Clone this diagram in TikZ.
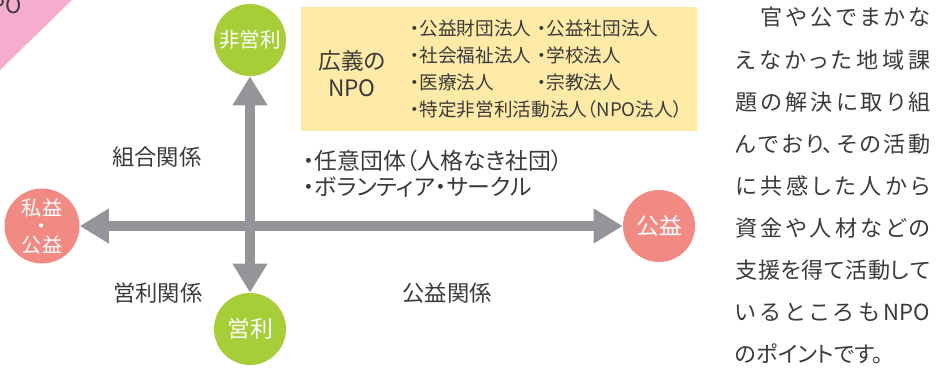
\documentclass[tikz,border=0pt]{standalone}
\usepackage{fontspec}
\setmainfont{Noto Sans CJK JP}[RawFeature=+palt]
\usetikzlibrary{arrows.meta,positioning}
\XeTeXlinebreaklocale "ja"
\XeTeXlinebreakskip=0pt plus 4pt
\definecolor{ink}{HTML}{3A3A3A}
\definecolor{eirigreen}{HTML}{A6CE39}
\definecolor{kouekired}{HTML}{F28A84}
\definecolor{arrowgray}{HTML}{949599}
\definecolor{boxyellow}{HTML}{FFEAA8}
\definecolor{tagpink}{HTML}{F6ACCF}

\begin{document}
\begin{tikzpicture}[x=0.02cm,y=-0.02cm,
    every node/.style={text=ink,inner sep=0pt},
    disc/.style={circle,minimum size=1.44cm,text=white},
    bigarrow/.style={arrowgray,line width=0.2cm,
        {Triangle[length=0.58cm,width=0.66cm]}-{Triangle[length=0.58cm,width=0.66cm]}},
    relfont/.style={font=\fontsize{12.7}{15}\selectfont}]
\useasboundingbox (0,0) rectangle (938,370);
\clip (0,0) rectangle (938,370);

% corner tag
\fill[tagpink] (0,0) -- (72,0) -- (0,70) -- cycle;
\node[anchor=base east,font=\fontsize{12.5}{14}\selectfont] (tag) at (22,13) {NPO};

% circles
\node[disc,fill=eirigreen,font=\fontsize{11.7}{14}\selectfont] (hieiri) at (250,40) {非営利};
\node[disc,fill=eirigreen,font=\fontsize{13}{14}\selectfont] (eiri) at (250,329) {営利};
\node[disc,fill=kouekired,minimum size=1.5cm,align=center,font=\fontsize{11.4}{11}\selectfont] (shieki) at (42,226) {私益\\[-0.5pt]・\\[-0.5pt]公益};
\node[disc,fill=kouekired,font=\fontsize{13}{14}\selectfont] (koueki) at (659,226) {公益};

% axes
\draw[bigarrow] (hieiri) -- (eiri);
\draw[bigarrow] (shieki) -- (koueki);

% broad NPO box
\node[fill=boxyellow,minimum width=7.92cm,minimum height=2.48cm,anchor=north west] (widebox) at (301,7) {};
\node[align=center,font=\fontsize{12.9}{15.3}\selectfont] (wide) at (352,74) {広義の\\NPO};
\node[anchor=north west,font=\fontsize{10.6}{15.4}\selectfont] (corps) at (410,16.5) {%
  \begin{tabular}{@{}p{2.54cm}@{}l@{}}
  ・公益財団法人 & ・公益社団法人\\
  ・社会福祉法人 & ・学校法人\\
  ・医療法人 & ・宗教法人\\
  \multicolumn{2}{@{}l@{}}{・特定非営利活動法人（NPO法人）}
  \end{tabular}};

\node[anchor=west,align=left,font=\fontsize{13}{14.7}\selectfont] (nini) at (303,174) {・任意団体（人格なき社団）\\・ボランティア・サークル};

% relations
\node[relfont] (kumiai) at (157,157) {組合関係};
\node[relfont] (eirirel) at (158,293) {営利関係};
\node[relfont] (kouekirel) at (447,293) {公益関係};

% side text
\node[anchor=north west,text width=3.9cm,align=justify,font=\fontsize{12.6}{23.95}\selectfont] (side) at (735,7) {%
\noindent　官や公でまかな\linebreak
えなかった地域課\linebreak
題の解決に取り組\linebreak
んでおり、その活動\linebreak
に共感した人から\linebreak
資金や人材などの\linebreak
支援を得て活動して\linebreak
いるところもNPO\linebreak
のポイントです。};
\end{tikzpicture}
\end{document}
